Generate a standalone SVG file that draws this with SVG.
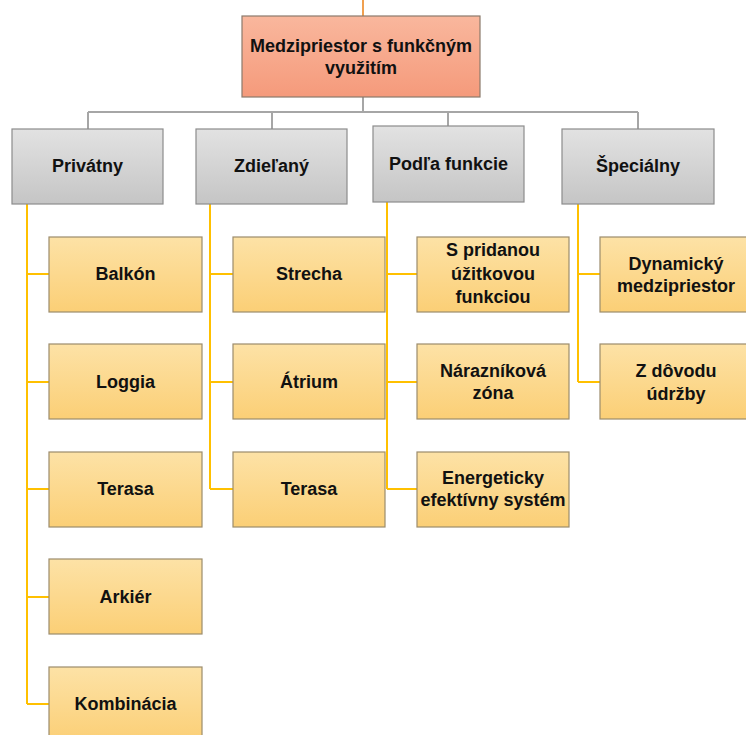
<svg xmlns="http://www.w3.org/2000/svg" width="746" height="735" viewBox="0 0 746 735">
  <defs>
    <linearGradient id="gRoot" x1="0" y1="0" x2="0" y2="1">
      <stop offset="0" stop-color="#f9b79d"/>
      <stop offset="1" stop-color="#f59a7b"/>
    </linearGradient>
    <linearGradient id="gGray" x1="0" y1="0" x2="0" y2="1">
      <stop offset="0" stop-color="#e2e2e2"/>
      <stop offset="1" stop-color="#c5c5c5"/>
    </linearGradient>
    <linearGradient id="gGold" x1="0" y1="0" x2="0" y2="1">
      <stop offset="0" stop-color="#fde2a6"/>
      <stop offset="1" stop-color="#fbcf76"/>
    </linearGradient>
    <style>
      text { font-family: "Liberation Sans", Arial, sans-serif; font-weight: bold; font-size: 18px; fill: #111; text-anchor: middle; }
      .root rect { fill: url(#gRoot); stroke: #8b7a6c; stroke-width: 1.2; }
      .cat rect { fill: url(#gGray); stroke: #8c8c8c; stroke-width: 1.2; }
      .leaf rect { fill: url(#gGold); stroke: #9c8c6c; stroke-width: 1.2; }
      .grayline { fill: none; stroke: #a6a6a6; stroke-width: 2; }
      .goldline { fill: none; stroke: #ffc000; stroke-width: 2; }
      .stub { fill: none; stroke: #f0a050; stroke-width: 2; }
    </style>
  </defs>
  <rect width="746" height="735" fill="#ffffff"/>

  <g id="connectors">
    <!-- stub above root -->
    <path class="stub" d="M363 0 V16"/>
    <!-- root to categories -->
    <path class="grayline" d="M363 97 V112 M88 112 H638 M88 112 V129 M272 112 V129 M448 112 V126 M638 112 V129"/>
    <!-- Privátny -->
    <path class="goldline" d="M27 204 V704 M27 274 H49 M27 382 H49 M27 489 H49 M27 597 H49 M27 704 H49"/>
    <!-- Zdieľaný -->
    <path class="goldline" d="M210 204 V489 M210 274 H233 M210 382 H233 M210 489 H233"/>
    <!-- Podľa funkcie -->
    <path class="goldline" d="M387 202 V489 M387 274 H417 M387 382 H417 M387 489 H417"/>
    <!-- Špeciálny -->
    <path class="goldline" d="M578 204 V382 M578 274 H600 M578 382 H600"/>
  </g>

  <g id="root" class="root">
    <rect x="242" y="16" width="238" height="81"/>
    <text x="361" y="52">Medzipriestor s funkčným</text>
    <text x="361" y="74">využitím</text>
  </g>

  <g id="privatny" class="cat">
    <rect x="12" y="129" width="151" height="75"/>
    <text x="87.5" y="172">Privátny</text>
  </g>
  <g id="zdielany" class="cat">
    <rect x="196" y="129" width="151" height="75"/>
    <text x="271.5" y="172">Zdieľaný</text>
  </g>
  <g id="podla-funkcie" class="cat">
    <rect x="373" y="126" width="151" height="76"/>
    <text x="448.5" y="170">Podľa funkcie</text>
  </g>
  <g id="specialny" class="cat">
    <rect x="562" y="129" width="152" height="75"/>
    <text x="638" y="172">Špeciálny</text>
  </g>

  <!-- Privátny children -->
  <g id="balkon" class="leaf">
    <rect x="49" y="237" width="153" height="75"/>
    <text x="125.5" y="280">Balkón</text>
  </g>
  <g id="loggia" class="leaf">
    <rect x="49" y="344" width="153" height="75"/>
    <text x="125.5" y="388">Loggia</text>
  </g>
  <g id="terasa-1" class="leaf">
    <rect x="49" y="452" width="153" height="75"/>
    <text x="125.5" y="495">Terasa</text>
  </g>
  <g id="arkier" class="leaf">
    <rect x="49" y="559" width="153" height="75"/>
    <text x="125.5" y="603">Arkiér</text>
  </g>
  <g id="kombinacia" class="leaf">
    <rect x="49" y="667" width="153" height="75"/>
    <text x="125.5" y="710">Kombinácia</text>
  </g>

  <!-- Zdieľaný children -->
  <g id="strecha" class="leaf">
    <rect x="233" y="237" width="152" height="75"/>
    <text x="309" y="280">Strecha</text>
  </g>
  <g id="atrium" class="leaf">
    <rect x="233" y="344" width="152" height="75"/>
    <text x="309" y="388">Átrium</text>
  </g>
  <g id="terasa-2" class="leaf">
    <rect x="233" y="452" width="152" height="75"/>
    <text x="309" y="495">Terasa</text>
  </g>

  <!-- Podľa funkcie children -->
  <g id="s-pridanou" class="leaf">
    <rect x="417" y="237" width="152" height="75"/>
    <text x="493" y="256">S pridanou</text>
    <text x="493" y="280">úžitkovou</text>
    <text x="493" y="303">funkciou</text>
  </g>
  <g id="naraznikova" class="leaf">
    <rect x="417" y="344" width="152" height="75"/>
    <text x="493" y="377">Nárazníková</text>
    <text x="493" y="399">zóna</text>
  </g>
  <g id="energeticky" class="leaf">
    <rect x="417" y="452" width="152" height="75"/>
    <text x="493" y="484">Energeticky</text>
    <text x="493" y="506">efektívny systém</text>
  </g>

  <!-- Špeciálny children -->
  <g id="dynamicky" class="leaf">
    <rect x="600" y="237" width="153" height="75"/>
    <text x="676" y="270">Dynamický</text>
    <text x="676" y="292">medzipriestor</text>
  </g>
  <g id="z-dovodu" class="leaf">
    <rect x="600" y="344" width="153" height="75"/>
    <text x="676" y="377">Z dôvodu</text>
    <text x="676" y="400">údržby</text>
  </g>
</svg>
